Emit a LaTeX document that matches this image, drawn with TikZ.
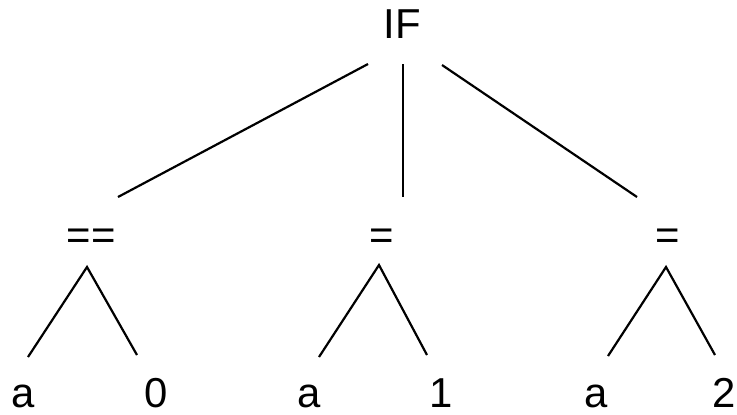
\documentclass[tikz,border=0pt]{standalone}
\usepackage{fontspec}
\setmainfont{Liberation Sans}
\begin{document}
\begin{tikzpicture}[x=1bp,y=-1bp,
  lbl/.style={anchor=base,inner sep=0pt,font=\fontsize{42}{50}\selectfont},
  leaf/.style={lbl,text depth=0pt},
  edge/.style={line width=2.2bp}]
\useasboundingbox (0,0) rectangle (737,414);
% labels
\node[lbl] (if) at (402,38) {IF};
\node[lbl] (eq1) at (91,249) {==};
\node[lbl] (eq2) at (382,249) {=};
\node[lbl] (eq3) at (668,249) {=};
\node[leaf] (a1) at (23,407) {a};
\node[leaf] (n0) at (156,407) {0};
\node[leaf] (a2) at (309,407) {a};
\node[leaf] (n1) at (441,407) {1};
\node[leaf] (a3) at (596,407) {a};
\node[leaf] (n2) at (724,407) {2};
% connector end points
\coordinate (ifL) at (368,64);
\coordinate (ifM) at (403,64);
\coordinate (ifR) at (442,65);
\coordinate (eq1T) at (118,197);
\coordinate (eq2T) at (403,197);
\coordinate (eq3T) at (637,197);
\coordinate (eq1A) at (87,267);
\coordinate (eq2A) at (379,265);
\coordinate (eq3A) at (666,267);
\coordinate (a1T) at (28,357);
\coordinate (n0T) at (137,355);
\coordinate (a2T) at (319,357);
\coordinate (n1T) at (427,355);
\coordinate (a3T) at (608,356);
\coordinate (n2T) at (715,355);
% connectors
\draw[edge] (ifL) -- (eq1T);
\draw[edge] (ifM) -- (eq2T);
\draw[edge] (ifR) -- (eq3T);
\draw[edge] (a1T) -- (eq1A) -- (n0T);
\draw[edge] (a2T) -- (eq2A) -- (n1T);
\draw[edge] (a3T) -- (eq3A) -- (n2T);
\end{tikzpicture}
\end{document}
